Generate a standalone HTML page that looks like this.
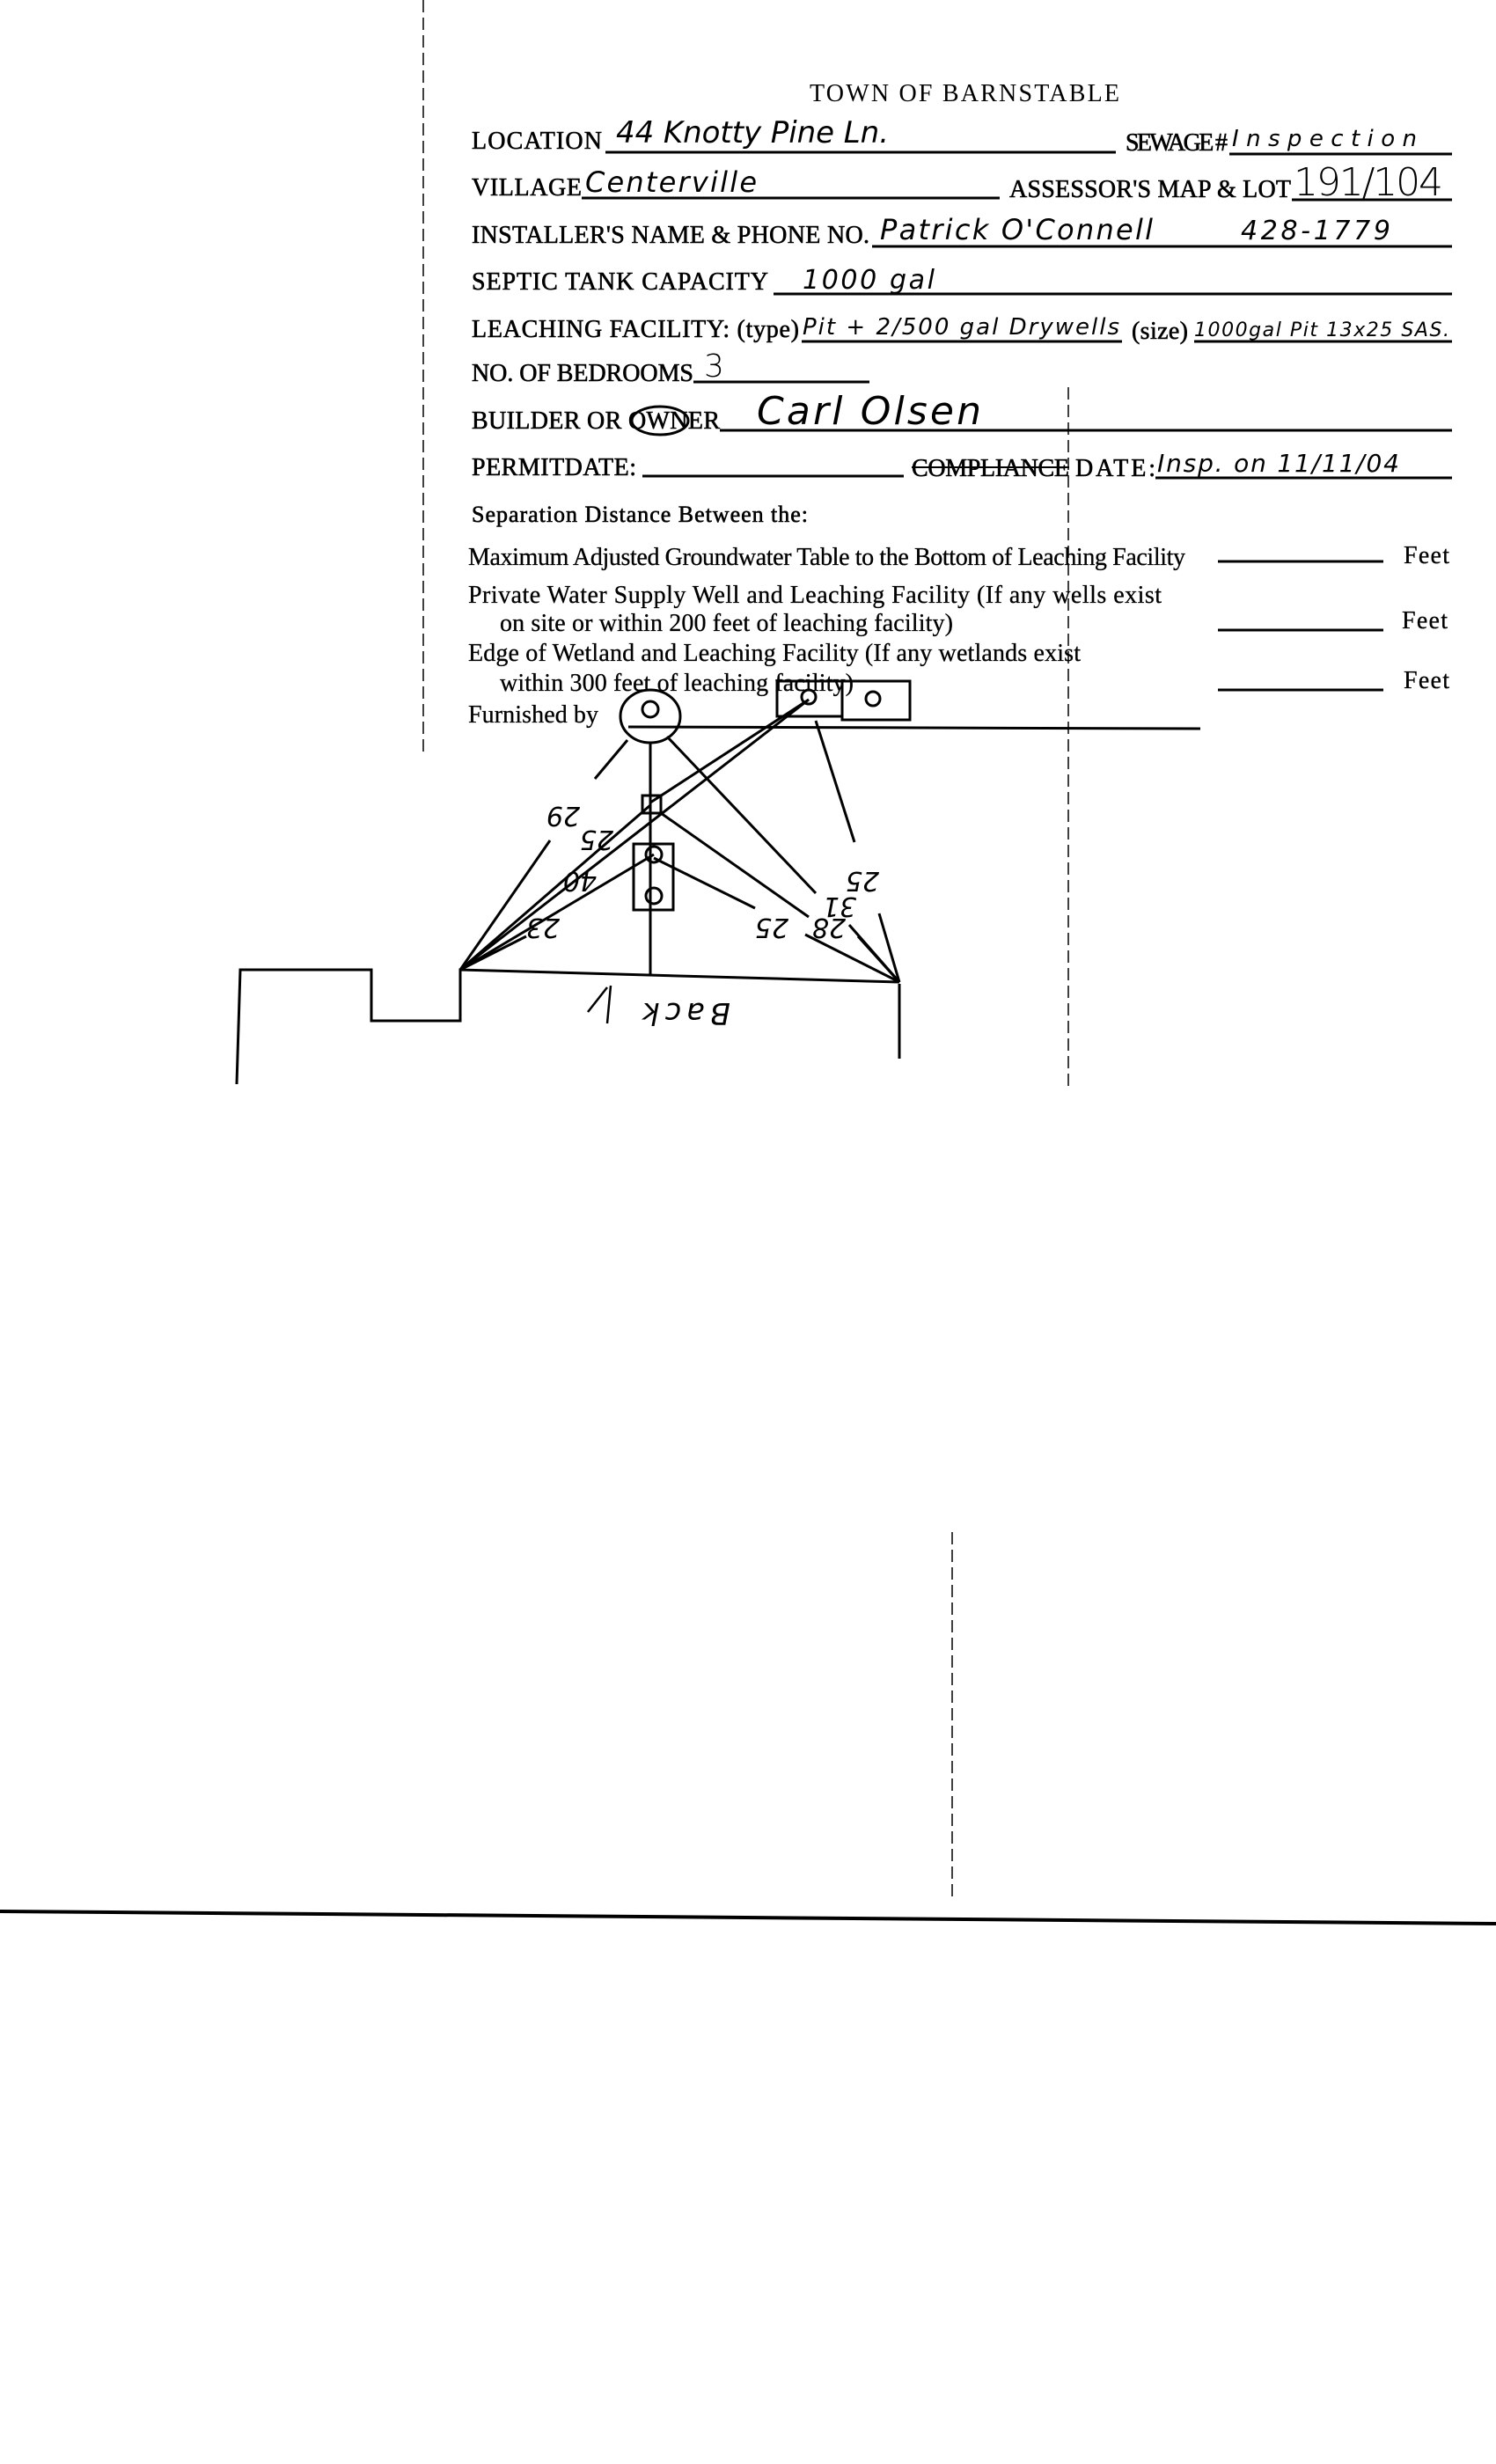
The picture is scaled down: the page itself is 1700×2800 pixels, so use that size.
<!DOCTYPE html>
<html><head><meta charset="utf-8"><style>
html,body{margin:0;padding:0;background:#fff;}
svg{display:block;}
.f{font-family:"Liberation Serif",serif;font-size:28px;fill:#000;}
.h{font-family:"DejaVu Sans",sans-serif;font-size:30px;fill:#000;font-style:italic;font-weight:300;}
</style></head><body>
<svg width="1700" height="2800" viewBox="0 0 1700 2800" xmlns="http://www.w3.org/2000/svg">
<rect width="1700" height="2800" fill="#fff"/>
<line x1="481" y1="0" x2="481" y2="860" stroke="#000" stroke-width="1.5" stroke-dasharray="14,6"/>
<line x1="1214" y1="440" x2="1214" y2="1235" stroke="#000" stroke-width="1.5" stroke-dasharray="14,6"/>
<line x1="1082" y1="1741" x2="1082" y2="2161" stroke="#000" stroke-width="1.5" stroke-dasharray="14,6"/>
<line x1="0" y1="2172" x2="1700" y2="2186" stroke="#000" stroke-width="4"/>

<text class="f" x="920" y="115" textLength="352">TOWN OF BARNSTABLE</text>

<g class="f" stroke="#000" stroke-width="0.6">
<text x="536" y="169" textLength="148">LOCATION</text>
<text x="1279" y="171" textLength="116">SEWAGE #</text>
<text x="536" y="222" textLength="125">VILLAGE</text>
<text x="1147" y="224" textLength="320">ASSESSOR'S MAP &amp; LOT</text>
<text x="536" y="276" textLength="452">INSTALLER'S NAME &amp; PHONE NO.</text>
<text x="536" y="329" textLength="337">SEPTIC TANK CAPACITY</text>
<text x="536" y="383" textLength="372">LEACHING FACILITY: (type)</text>
<text x="1286" y="385" textLength="64">(size)</text>
<text x="536" y="433" textLength="252">NO. OF BEDROOMS</text>
<text x="536" y="487" textLength="282">BUILDER OR OWNER</text>
<text x="536" y="540" textLength="187">PERMITDATE:</text>
<text x="1036" y="541" textLength="179">COMPLIANCE</text>
<text x="1222" y="541" textLength="91">DATE:</text>
<text x="536" y="593" textLength="382" font-size="26">Separation Distance Between the:</text>
</g>
<line x1="1036" y1="531" x2="1215" y2="531" stroke="#000" stroke-width="2"/>
<ellipse cx="750" cy="478" rx="32" ry="16" fill="none" stroke="#000" stroke-width="3"/>

<g class="f" font-size="26" stroke="#000" stroke-width="0.3">
<text x="532" y="642" textLength="815">Maximum Adjusted Groundwater Table to the Bottom of Leaching Facility</text>
<text x="532" y="685" textLength="788">Private Water Supply Well and Leaching Facility  (If any wells exist</text>
<text x="568" y="717" textLength="515">on site or within 200 feet of leaching facility)</text>
<text x="532" y="751" textLength="696">Edge of Wetland and Leaching Facility (If any wetlands exist</text>
<text x="568" y="785" textLength="402">within 300 feet of leaching facility)</text>
<text x="532" y="821" textLength="148">Furnished by</text>
<text x="1595" y="640" textLength="52">Feet</text>
<text x="1593" y="714" textLength="52">Feet</text>
<text x="1595" y="782" textLength="52">Feet</text>
</g>

<g stroke="#000" stroke-width="3">
<line x1="688" y1="173" x2="1268" y2="173"/>
<line x1="1397" y1="175" x2="1650" y2="175"/>
<line x1="661" y1="225" x2="1136" y2="225"/>
<line x1="1468" y1="227" x2="1650" y2="227"/>
<line x1="991" y1="280" x2="1650" y2="280"/>
<line x1="879" y1="334" x2="1650" y2="334"/>
<line x1="911" y1="388" x2="1275" y2="388"/>
<line x1="1357" y1="388" x2="1650" y2="388"/>
<line x1="788" y1="434" x2="988" y2="434"/>
<line x1="818" y1="489" x2="1650" y2="489"/>
<line x1="730" y1="541" x2="1027" y2="541"/>
<line x1="1313" y1="543" x2="1650" y2="543"/>
<line x1="1384" y1="638" x2="1572" y2="638"/>
<line x1="1384" y1="716" x2="1572" y2="716"/>
<line x1="1384" y1="784" x2="1572" y2="784"/>
<line x1="714" y1="826" x2="1364" y2="828"/>
</g>

<g class="h">
<text x="700" y="162" textLength="310" font-size="34">44 Knotty Pine Ln.</text>
<text x="1400" y="166" textLength="210" font-size="26">Inspection</text>
<text x="665" y="218" textLength="195" font-size="32">Centerville</text>
<text x="1470" y="222" textLength="170" font-size="44" font-style="normal">191/104</text>
<text x="1000" y="272" textLength="310" font-size="32">Patrick O'Connell</text>
<text x="1410" y="272" textLength="170" font-size="30">428-1779</text>
<text x="912" y="328" textLength="150" font-size="30">1000 gal</text>
<text x="912" y="380" textLength="360" font-size="26">Pit + 2/500 gal Drywells</text>
<text x="1357" y="382" textLength="290" font-size="22">1000gal Pit  13x25 SAS.</text>
<text x="800" y="428" font-size="36" font-style="normal">3</text>
<text x="860" y="482" textLength="255" font-size="44">Carl Olsen</text>
<text x="1315" y="536" textLength="275" font-size="28">Insp. on  11/11/04</text>
</g>

<g stroke="#000" stroke-width="3" fill="none">
<ellipse cx="739" cy="814" rx="34" ry="30"/>
<circle cx="739" cy="806" r="9"/>
<rect x="883" y="774" width="74" height="40"/>
<circle cx="919" cy="792" r="8"/>
<rect x="957" y="774" width="77" height="44"/>
<circle cx="992" cy="794" r="8"/>
<line x1="739" y1="844" x2="739" y2="1107"/>
<rect x="730" y="904" width="21" height="20"/>
<rect x="720" y="959" width="45" height="75"/>
<circle cx="743" cy="971" r="9"/>
<circle cx="743" cy="1018" r="9"/>
<polyline points="269,1232 273,1102 422,1102 422,1160 523,1160 523,1102 1022,1116"/>
<line x1="1022" y1="1118" x2="1022" y2="1203"/>
<line x1="523" y1="1102" x2="625" y2="955"/>
<line x1="523" y1="1102" x2="739" y2="915"/>
<line x1="523" y1="1102" x2="919" y2="795"/>
<line x1="739" y1="912" x2="919" y2="795"/>
<line x1="523" y1="1102" x2="743" y2="971"/>
<line x1="523" y1="1102" x2="598" y2="1064"/>
<line x1="713" y1="841" x2="676" y2="885"/>
<line x1="758" y1="837" x2="927" y2="1015"/>
<line x1="751" y1="924" x2="919" y2="1042"/>
<line x1="927" y1="819" x2="971" y2="957"/>
<line x1="743" y1="975" x2="858" y2="1032"/>
<line x1="1022" y1="1116" x2="915" y2="1062"/>
<line x1="1022" y1="1116" x2="965" y2="1051"/>
<line x1="1022" y1="1116" x2="975" y2="1064"/>
<line x1="1022" y1="1116" x2="999" y2="1038"/>
<line x1="694" y1="1120" x2="690" y2="1163" stroke-width="2.5"/>
<path d="M690 1122 L668 1150" stroke-width="2.5"/>
</g>
<g class="h" font-size="28" font-style="normal">
<text transform="translate(640,917) rotate(180)" text-anchor="middle">29</text>
<text transform="translate(678,944) rotate(180)" text-anchor="middle">25</text>
<text transform="translate(659,991) rotate(180)" text-anchor="middle">40</text>
<text transform="translate(617,1044) rotate(180)" text-anchor="middle">23</text>
<text transform="translate(877,1044) rotate(180)" text-anchor="middle">25</text>
<text transform="translate(942,1044) rotate(180)" text-anchor="middle">28</text>
<text transform="translate(954,1020) rotate(180)" text-anchor="middle">31</text>
<text transform="translate(980,991) rotate(180)" text-anchor="middle">25</text>
<text transform="translate(780,1140) rotate(180)" text-anchor="middle" font-size="34" textLength="100">Back</text>
</g>
</svg>
</body></html>
